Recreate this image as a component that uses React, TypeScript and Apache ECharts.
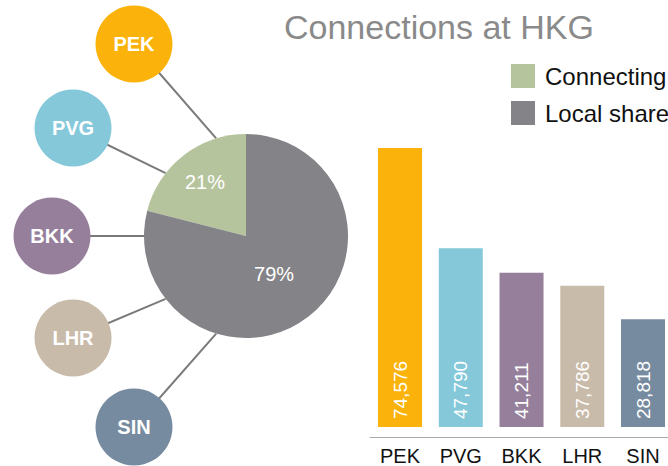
import React, { useEffect, useRef } from "react";
import * as echarts from "echarts";

const airports = ["PEK", "PVG", "BKK", "LHR", "SIN"];
const connections = [74576, 47790, 41211, 37786, 28818];
const airportColors = ["#FBB30B", "#84C8DA", "#957F9B", "#C9BBA9", "#778BA0"];

const shareNames = ["Connecting", "Local share"];
const shareValues = [21, 79];
const shareColors = ["#B6C49E", "#848387"];

// layout of the decorative airport bubbles (pixel positions)
const bubbleCenters: [number, number][] = [
  [134, 44],
  [73, 128],
  [52, 236],
  [73, 338],
  [134, 427],
];
const connectorAngles = [107, 142, 180, 218, 253];

const FONT = "'Liberation Sans', Arial, Helvetica, sans-serif";

export default function App() {
  const ref = useRef<HTMLDivElement>(null);
  useEffect(() => {
    if (!ref.current) return;
    document.body.style.margin = "0";
    const chart = echarts.init(ref.current, undefined, { renderer: "svg" });
    const pieCx = 246;
    const pieCy = 236;
    const pieR = 102;

    const graphics: any[] = [];
    airports.forEach((code, i) => {
      const [cx, cy] = bubbleCenters[i];
      const a = (connectorAngles[i] * Math.PI) / 180;
      graphics.push({
        type: "line",
        z: 0,
        shape: {
          x1: cx,
          y1: cy,
          x2: pieCx + pieR * Math.cos(a),
          y2: pieCy - pieR * Math.sin(a),
        },
        style: { stroke: "#7a7a7a", lineWidth: 2 },
      });
      graphics.push({
        type: "circle",
        z: 100,
        shape: { cx, cy, r: 38.5 },
        style: { fill: airportColors[i] },
      });
      graphics.push({
        type: "text",
        z: 101,
        x: cx,
        y: cy,
        style: {
          text: code,
          fill: "#ffffff",
          font: `bold 20px ${FONT}`,
          align: "center",
          verticalAlign: "middle",
        },
      });
    });

    chart.setOption({
      animation: false,
      title: {
        text: "Connections at HKG",
        left: 284,
        top: 10,
        padding: 0,
        textStyle: {
          fontFamily: FONT,
          fontSize: 34,
          fontWeight: "normal",
          color: "#8a8a8a",
        },
      },
      legend: {
        orient: "vertical",
        left: 511,
        top: 64,
        padding: 0,
        itemWidth: 24,
        itemHeight: 24,
        itemGap: 13,
        icon: "rect",
        data: shareNames,
        textStyle: {
          fontFamily: FONT,
          fontSize: 24,
          color: "#111111",
          padding: [0, 0, 0, 5],
        },
      },
      grid: { left: 370, right: 0, top: 148, bottom: 28, containLabel: false },
      xAxis: {
        type: "value",
        min: -0.494,
        max: 4.411,
        splitLine: { show: false },
        axisLine: { show: true, onZero: false, lineStyle: { color: "#aaaaaa", width: 1 } },
        axisTick: { show: false },
        axisLabel: {
          customValues: airports.map((_, i) => i),
          formatter: (v: number) => airports[Math.round(v)] ?? "",
          fontFamily: FONT,
          fontSize: 20,
          color: "#111111",
          margin: 9,
        },
      },
      yAxis: {
        type: "value",
        min: -2663,
        max: 74576,
        show: false,
        splitLine: { show: false },
      },
      graphic: graphics,
      series: [
        {
          type: "pie",
          center: [pieCx, pieCy],
          radius: pieR,
          startAngle: 90,
          clockwise: false,
          z: 2,
          label: {
            show: true,
            position: "inside",
            formatter: "{d}%",
            color: "#ffffff",
            fontFamily: FONT,
            fontSize: 20,
          },
          labelLine: { show: false },
          emphasis: { disabled: true },
          data: shareNames.map((n, i) => ({
            name: n,
            value: shareValues[i],
            itemStyle: { color: shareColors[i] },
            label: { offset: i === 0 ? [-8, -11] : [-5, -5] },
          })),
        },
        {
          type: "bar",
          barWidth: 44,
          data: connections.map((v, i) => ({
            value: [i, v],
            itemStyle: { color: airportColors[i] },
          })),
          label: {
            show: true,
            position: "insideBottom",
            rotate: 90,
            align: "left",
            verticalAlign: "middle",
            distance: 8,
            color: "#ffffff",
            fontFamily: FONT,
            fontSize: 19,
            formatter: (p: any) => Number(p.value[1]).toLocaleString("en-US"),
          },
        },
      ],
    });
    return () => chart.dispose();
  }, []);
  return <div ref={ref} style={{ width: 668, height: 466 }} />;
}
